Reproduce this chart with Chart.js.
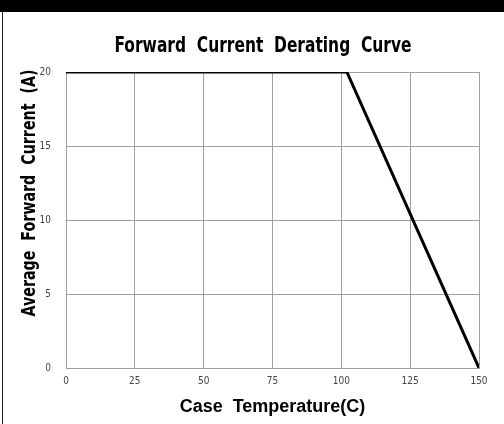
<html>
<head>
<script src="https://cdn.jsdelivr.net/npm/chart.js@4.4.0/dist/chart.umd.min.js"></script>
<style>
body{margin:0;background:#fff;}
#wrap{width:504px;height:424px;position:relative;}
</style>
</head>
<body>
<div id="wrap"><canvas id="derate" width="504" height="424"></canvas></div>
<script>
// case temperature (C) vs average forward current (A)
var temps = [0, 102, 150];
var currents = [20, 20, 0];
var xTicks = [0, 25, 50, 75, 100, 125, 150];
var yTicks = [0, 5, 10, 15, 20];
var chartTitle = 'Forward  Current  Derating  Curve';
var xTitle = 'Case  Temperature(C)';
var yTitle = 'Average  Forward  Current  (A)';

var narrow = '"Liberation Sans Narrow", "DejaVu Sans Condensed", "Roboto Condensed", sans-serif';

// black band, left rule and the condensed titles (squeezed with maxWidth)
var frame = {
  id: 'frame',
  beforeDraw: function(c){
    var g = c.ctx;
    g.save();
    g.fillStyle = '#fff';
    g.fillRect(0, 0, c.width, c.height);
    g.restore();
  },
  afterDraw: function(c){
    var g = c.ctx;
    g.save();
    g.fillStyle = '#000';
    g.fillRect(0, 0, c.width, 12);
    g.fillStyle = '#222';
    g.fillRect(2, 12, 1, c.height - 12);
    g.fillStyle = '#000';
    g.font = 'bold 22px ' + narrow;
    g.textAlign = 'center';
    g.textBaseline = 'middle';
    g.fillText(chartTitle, 263, 46, 297);
    g.translate(30, 193);
    g.rotate(-Math.PI / 2);
    g.font = 'bold 20px ' + narrow;
    g.fillText(yTitle, 0, 0, 247);
    g.restore();
  }
};

var pts = temps.map(function(t, i){ return {x: t, y: currents[i]}; });

new Chart(document.getElementById('derate').getContext('2d'), {
  type: 'line',
  data: {
    datasets: [{
      data: pts,
      borderColor: '#000',
      borderWidth: 3,
      pointRadius: 0,
      fill: false,
      tension: 0
    }]
  },
  options: {
    responsive: false,
    animation: false,
    layout: {padding: {top: 72, right: 25, left: 0, bottom: 0}},
    plugins: {legend: {display: false}, tooltip: {enabled: false}},
    scales: {
      x: {
        type: 'linear', min: 0, max: 150,
        afterFit: function(s){ s.height = 56; },
        afterBuildTicks: function(s){ s.ticks = xTicks.map(function(v){ return {value: v}; }); },
        grid: {color: '#a0a0a0', lineWidth: 1, tickLength: 0},
        border: {color: '#a0a0a0'},
        ticks: {color: '#444', padding: 7, font: {family: narrow, size: 10}},
        title: {display: true, text: xTitle, color: '#000', padding: {top: 0, bottom: 6},
          font: {family: '"Liberation Sans", Arial, sans-serif', size: 18, weight: 'bold'}}
      },
      y: {
        type: 'linear', min: 0, max: 20,
        afterFit: function(s){ s.width = 66; },
        afterBuildTicks: function(s){ s.ticks = yTicks.map(function(v){ return {value: v}; }); },
        grid: {color: '#a0a0a0', lineWidth: 1, tickLength: 0},
        border: {color: '#a0a0a0'},
        ticks: {color: '#444', padding: 15, font: {family: narrow, size: 10}}
      }
    }
  },
  plugins: [frame]
});
</script>
</body>
</html>
